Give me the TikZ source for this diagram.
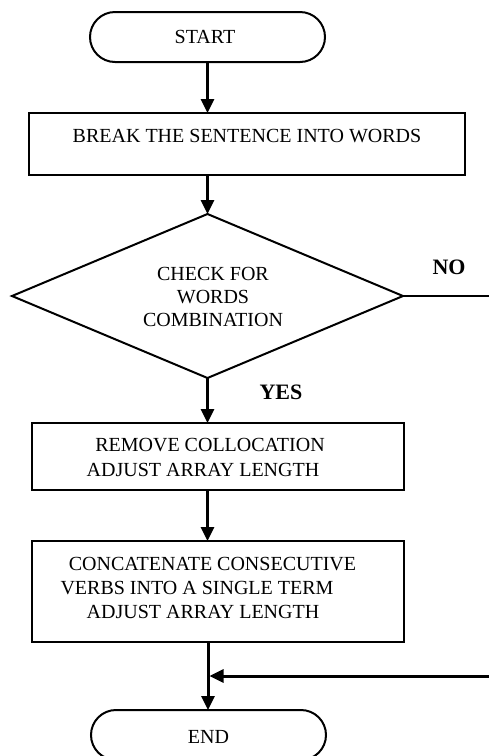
\documentclass[tikz,border=0pt]{standalone}
\usepackage{fontspec}
\setmainfont{Liberation Serif}
\usetikzlibrary{arrows.meta,shapes.geometric}

\begin{document}
\begin{tikzpicture}[x=1pt,y=-1pt,
  every node/.style={inner sep=0pt,outer sep=0pt},
  txt/.style={font=\fontsize{20}{23}\selectfont},
  btxt/.style={font=\fontsize{22}{25}\selectfont\bfseries},
  terminal/.style={draw,line width=2pt,rectangle,rounded corners=25pt,
    minimum width=235pt,minimum height=50pt},
  procbox/.style={draw,line width=2pt,rectangle},
  decision/.style={draw,line width=2pt,diamond,
    minimum width=391pt,minimum height=164pt},
  flow/.style={line width=3pt,-{Triangle[length=14pt,width=13pt]}},
  plain/.style={line width=3pt}]

\useasboundingbox (0,0) rectangle (489,756);

% shapes
\node[terminal] (start) at (207.5,37) {};
\node[procbox,minimum width=436pt,minimum height=62pt] (break) at (247,144) {};
\node[decision] (check) at (207.5,296) {};
\node[procbox,minimum width=372pt,minimum height=67pt] (remove) at (218,456.5) {};
\node[procbox,minimum width=372pt,minimum height=101pt] (concat) at (218,591.5) {};
\node[terminal] (end) at (208.5,735) {};

% texts
\node[txt] (tstart) at (205,37) {START};
\node[txt] (tbreak) at (247,136) {BREAK THE SENTENCE INTO WORDS};
\node[txt,align=center] (tcheck) at (213,297) {CHECK FOR\\WORDS\\COMBINATION};
\node[btxt] (tno) at (449,267) {NO};
\node[btxt] (tyes) at (281,392) {YES};
\node[txt] (trm1) at (210,445) {REMOVE COLLOCATION};
\node[txt] (trm2) at (203,470) {ADJUST ARRAY LENGTH};
\node[txt] (tcc1) at (212.5,564) {CONCATENATE CONSECUTIVE};
\node[txt] (tcc2) at (197,588) {VERBS INTO A SINGLE TERM};
\node[txt] (tcc3) at (203,612) {ADJUST ARRAY LENGTH};
\node[txt] (tend) at (208.5,737) {END};

% connectors
\coordinate (noout) at (489,296);
\coordinate (backin) at (489,676);
\coordinate (join) at (208,676);

\draw[flow] (start.south) -- (start.south |- break.north);
\draw[flow] (break.south -| check.north) -- (check.north);
\draw[flow] (check.south) -- (check.south |- remove.north);
\draw[flow] (remove.south -| check.south) -- (check.south |- concat.north);
\draw[flow] (concat.south -| join) -- (join |- end.north);
\draw[flow] (backin) -- ([xshift=1.5pt]join);
\draw[plain,line width=2.5pt] (check.east) -- (noout);
\end{tikzpicture}
\end{document}
